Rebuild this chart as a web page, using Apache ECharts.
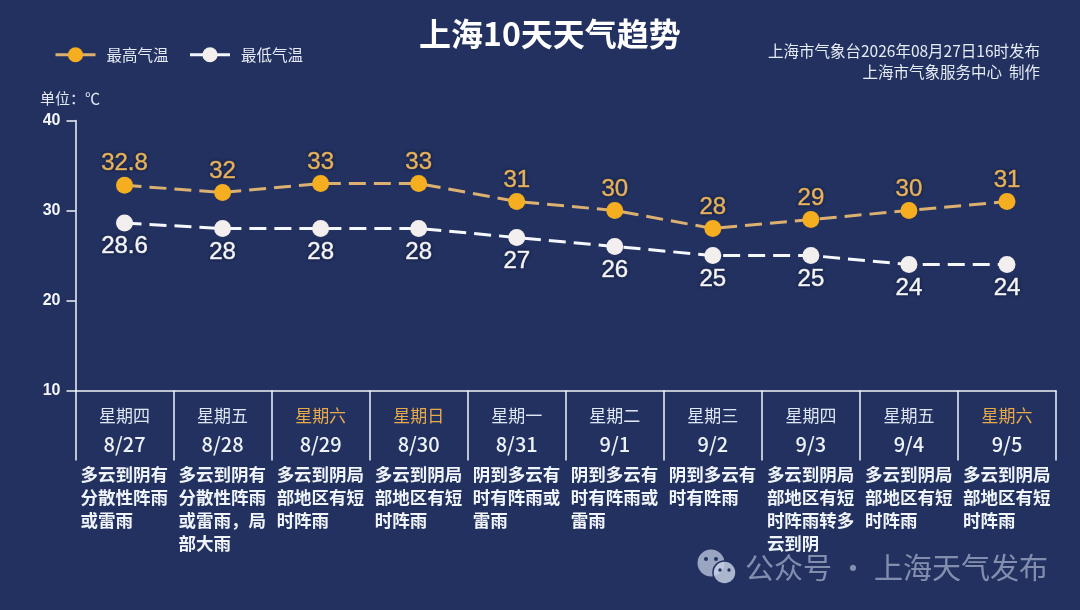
<!DOCTYPE html>
<html><head><meta charset="utf-8">
<style>html,body{margin:0;padding:0;background:#22315f}#c{width:1080px;height:610px}</style>
<script src="https://cdn.jsdelivr.net/npm/echarts@6/dist/echarts.min.js"></script>
</head><body><div id="c"></div>
<script>
const dates = ['8/27','8/28','8/29','8/30','8/31','9/1','9/2','9/3','9/4','9/5'];
const weekdays = ['星期四','星期五','星期六','星期日','星期一','星期二','星期三','星期四','星期五','星期六'];
const highs = [32.8,32,33,33,31,30,28,29,30,31];
const lows = [28.6,28,28,28,27,26,25,25,24,24];
const forecasts = [
 ['多云到阴有','分散性阵雨','或雷雨'],
 ['多云到阴有','分散性阵雨','或雷雨，局','部大雨'],
 ['多云到阴局','部地区有短','时阵雨'],
 ['多云到阴局','部地区有短','时阵雨'],
 ['阴到多云有','时有阵雨或','雷雨'],
 ['阴到多云有','时有阵雨或','雷雨'],
 ['阴到多云有','时有阵雨'],
 ['多云到阴局','部地区有短','时阵雨转多','云到阴'],
 ['多云到阴局','部地区有短','时阵雨'],
 ['多云到阴局','部地区有短','时阵雨']
];
const cjk = '"Noto Sans CJK SC","Noto Sans",sans-serif';
const lat = '"Liberation Sans",Arial,sans-serif';
const ORANGE = '#f5ae1f', TAN = '#dcb070', BG = '#22315f';
const labelFor = (color) => ({show:true,fontFamily:lat,fontSize:24,color:color,textBorderColor:color,textBorderWidth:0.6,textShadowColor:'rgba(15,20,45,.7)',textShadowBlur:3});
const chart = echarts.init(document.getElementById('c'),null,{renderer:'canvas'});
chart.setOption({
 backgroundColor:BG,
 animation:false,
 title:{text:'上海10天天气趋势',left:414,top:13,textStyle:{color:'#fff',fontFamily:cjk,fontWeight:'bold',fontSize:32}},
 legend:{left:49,top:42,itemWidth:40,itemHeight:19,itemGap:20,
  textStyle:{color:'#e6ebf5',fontFamily:cjk,fontSize:15.5,padding:[0,0,0,6]},
  data:[{name:'最高气温',itemStyle:{color:ORANGE},lineStyle:{color:TAN,type:'solid',width:3}},
        {name:'最低气温',itemStyle:{color:'#f3efee'},lineStyle:{color:'#f3f6ff',type:'solid',width:3}}]},
 grid:{left:75.5,right:24,top:120.5,height:270},
 xAxis:{type:'category',data:dates,boundaryGap:true,
  axisLine:{lineStyle:{color:'#f0f4fa',width:1.5}},
  axisTick:{show:true,inside:true,length:-70,lineStyle:{color:'#f0f4fa',width:1.5}},
  axisLabel:{interval:0,margin:14,
   formatter:(v,i)=>{
     const w = weekdays[i];
     const tag = (w==='星期六'||w==='星期日')?'o':'w';
     return `{${tag}|${w}}\n{dt|${v}}\n{d|${forecasts[i].join('\n')}}`;
   },
   rich:{
    w:{fontFamily:cjk,fontSize:17,color:'#dfe6f3',height:21.5,lineHeight:21.5,align:'center'},
    o:{fontFamily:cjk,fontSize:17,color:'#e8a94a',height:21.5,lineHeight:21.5,align:'center'},
    dt:{fontFamily:cjk,fontSize:20,fontWeight:500,color:'#eef2fa',height:37,lineHeight:37,align:'center'},
    d:{fontFamily:cjk,fontSize:17.5,fontWeight:'bold',color:'#f0f4fb',lineHeight:23,align:'left',width:88}
   }}},
 yAxis:{type:'value',min:10,max:40,interval:10,
  axisLine:{show:true,lineStyle:{color:'#f0f4fa',width:1.5}},
  axisTick:{show:true,length:9,lineStyle:{color:'#f0f4fa',width:1.5}},
  axisLabel:{color:'#f4f6fb',fontFamily:lat,fontWeight:'bold',fontSize:16,margin:15},
  splitLine:{show:false}},
 series:[
  {name:'最高气温',type:'line',data:highs,symbol:'circle',symbolSize:17,
   itemStyle:{color:ORANGE},lineStyle:{color:TAN,width:3,type:[17,8]},
   label:{...labelFor('#e6b25e'),position:'top',distance:1},z:3},
  {name:'最低气温',type:'line',data:lows,symbol:'circle',symbolSize:17,
   itemStyle:{color:'#f3efee'},lineStyle:{color:'#f6f8ff',width:3,type:[17,8]},
   label:{...labelFor('#f4f6fb'),position:'bottom',distance:3},z:3}
 ],
 graphic:[
  {type:'text',left:40,top:91,style:{text:'单位：℃',fill:'#e6ebf5',font:'15px '+cjk}},
  {type:'text',right:40,top:43,style:{text:'上海市气象台2026年08月27日16时发布',fill:'#e6ebf5',font:'15.5px '+cjk,textAlign:'right'}},
  {type:'text',right:40,top:64,style:{text:'上海市气象服务中心  制作',fill:'#e6ebf5',font:'15.5px '+cjk,textAlign:'right'}},
  {type:'text',left:745,top:553,style:{text:'公众号 · 上海天气发布',fill:'rgba(190,200,225,.62)',font:'29px '+cjk}},
  {type:'circle',shape:{cx:711,cy:563,r:13.5},style:{fill:'rgba(195,204,226,.75)'}},
  {type:'circle',shape:{cx:724.5,cy:572.5,r:11.5},style:{fill:'rgba(195,204,226,.85)',stroke:BG,lineWidth:1.5}},
  {type:'circle',shape:{cx:706,cy:559,r:2},style:{fill:BG}},
  {type:'circle',shape:{cx:716,cy:559,r:2},style:{fill:BG}},
  {type:'circle',shape:{cx:720,cy:570,r:1.7},style:{fill:BG}},
  {type:'circle',shape:{cx:729,cy:570,r:1.7},style:{fill:BG}}
 ]
});
</script></body></html>
